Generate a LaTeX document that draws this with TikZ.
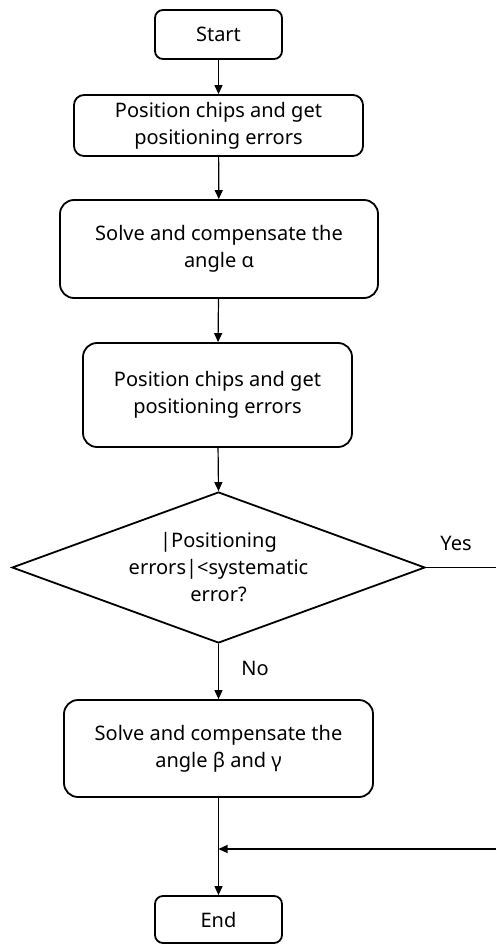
\documentclass[tikz,border=0pt]{standalone}
\usepackage{fontspec}
\setmainfont[Ligatures=NoCommon]{Noto Sans}
\usetikzlibrary{shapes.geometric,arrows.meta}
\begin{document}
\begin{tikzpicture}[x=1pt,y=-1pt,
  txt/.style={font=\fontsize{20}{27}\selectfont},
  box/.style={draw, line width=1.8pt, rounded corners=14pt, align=center,
    inner sep=0pt, txt},
  term/.style={box, rounded corners=8pt},
  dec/.style={draw, diamond, line width=1.8pt, inner sep=0pt},
  flow/.style={-{Triangle[length=9pt,width=8pt]}, line width=1.2pt},
  edge/.style={line width=1.2pt}]
\useasboundingbox (0,0) rectangle (496,944);

% process steps
\node[term, minimum width=127, minimum height=49] (start) at (218.5,34.5) {Start};
\node[box, rounded corners=10pt, minimum width=289, minimum height=61] (pos1) at (218.5,125.5)
  {Position chips and get\\positioning errors};
\node[box, minimum width=318, minimum height=98] (alpha) at (219,249)
  {Solve and compensate the\\angle α};
\node[box, minimum width=269, minimum height=104] (pos2) at (217.5,395)
  {Position chips and get\\positioning errors};
\node[dec, minimum width=413, minimum height=151] (check) at (218.5,567.5) {};
\node[txt, align=center] (checktxt) at (check.center)
  {|Positioning\\errors|<systematic\\error?};
\node[box, minimum width=309, minimum height=97] (beta) at (218.5,748.5)
  {Solve and compensate the\\angle β and γ};
\node[term, minimum width=127, minimum height=47] (end) at (218.5,919.5) {End};

% branch labels
\node[txt] (yes) at (456,543) {Yes};
\node[txt] (no) at (255,668) {No};

% bypass route along the right edge
\coordinate (r1) at (496,567.5);
\coordinate (r2) at (496,849);
\coordinate (merge) at (218.5,849);

% connectors
\draw[flow] (start) -- (pos1);
\draw[flow] (pos1) -- (alpha);
\draw[flow] (alpha) -- (pos2);
\draw[flow] (pos2) -- (check.north);
\draw[flow] (check.south) -- (beta);
\draw[edge] (check.east) -- (r1);
\draw[flow] (r2) -- (merge);
\draw[flow] (beta) -- (end);
\end{tikzpicture}
\end{document}
